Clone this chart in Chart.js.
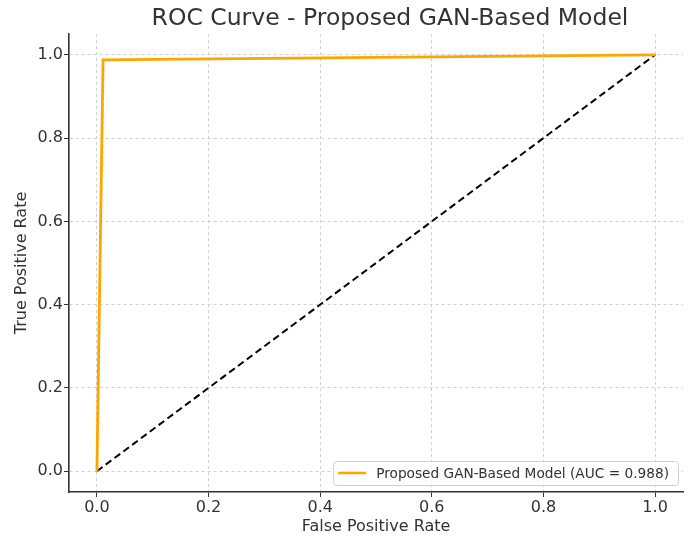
<!DOCTYPE html>
<html>
<head>
<meta charset="utf-8">
<script src="https://cdn.jsdelivr.net/npm/chart.js@4.4.1/dist/chart.umd.min.js"></script>
<style>
  html, body { margin: 0; padding: 0; background: #fff; }
  #wrap { width: 690px; height: 538px; }
</style>
</head>
<body>
<div id="wrap"><canvas id="roc"></canvas></div>
<script>
// ROC data
const modelFpr = [0, 0.011, 1];
const modelTpr = [0, 0.988, 1];
const chanceFpr = [0, 1];
const chanceTpr = [0, 1];
const tickValues = [0, 0.2, 0.4, 0.6, 0.8, 1.0];
const modelLabel = 'Proposed GAN-Based Model (AUC = 0.988)';
const chartTitle = 'ROC Curve - Proposed GAN-Based Model';

const FONT = "'DejaVu Sans', sans-serif";
const TEXT = '#333333';

const toPoints = (xs, ys) => xs.map((x, i) => ({ x: x, y: ys[i] }));

// title above the plot area
const titlePlugin = {
    id: 'axTitle',
    afterDraw(chart) {
        const { ctx, chartArea } = chart;
        ctx.save();
        ctx.font = '23.5px ' + FONT;
        ctx.fillStyle = TEXT;
        ctx.textAlign = 'center';
        ctx.textBaseline = 'middle';
        ctx.fillText(chartTitle, (chartArea.left + chartArea.right) / 2 + 14, 19);
        ctx.restore();
    }
};

// legend box in the lower right corner of the plot
const cornerLegend = {
    id: 'cornerLegend',
    afterDraw(chart) {
        const { ctx, chartArea } = chart;
        const ds = chart.data.datasets[0];
        ctx.save();
        ctx.font = '13.7px ' + FONT;
        const textW = ctx.measureText(ds.label).width;
        const boxW = textW + 52;
        const boxH = 24;
        const x = chartArea.right - boxW - 5;
        const y = chartArea.bottom - boxH - 7;
        ctx.fillStyle = 'rgba(255,255,255,0.8)';
        ctx.strokeStyle = '#d0d0d0';
        ctx.lineWidth = 1;
        ctx.beginPath();
        ctx.roundRect(x + 0.5, y + 0.5, boxW, boxH, 3);
        ctx.fill();
        ctx.stroke();
        ctx.strokeStyle = ds.borderColor;
        ctx.lineWidth = 2.5;
        ctx.beginPath();
        ctx.moveTo(x + 5, y + boxH / 2);
        ctx.lineTo(x + 33, y + boxH / 2);
        ctx.stroke();
        ctx.fillStyle = TEXT;
        ctx.textBaseline = 'middle';
        ctx.fillText(ds.label, x + 43, y + boxH / 2 + 1);
        ctx.restore();
    }
};

const setTicks = (scale) => {
    scale.ticks = tickValues.map(v => ({ value: v }));
};

const gridOpts = {
    color: '#d0d0d0',
    lineWidth: 1,
    tickColor: '#333333',
    tickBorderDash: [],
    tickLength: 5,
    drawTicks: true
};

const borderOpts = { display: true, color: '#333333', width: 1.6, dash: [3, 3] };

new Chart(document.getElementById('roc'), {
    type: 'scatter',
    data: {
        datasets: [{
            label: modelLabel,
            data: toPoints(modelFpr, modelTpr),
            showLine: true,
            borderColor: '#FFA500',
            backgroundColor: '#FFA500',
            borderWidth: 2.8,
            pointRadius: 0,
            tension: 0
        }, {
            label: 'chance',
            data: toPoints(chanceFpr, chanceTpr),
            showLine: true,
            borderColor: '#000000',
            borderWidth: 2,
            borderDash: [7, 4],
            pointRadius: 0
        }]
    },
    options: {
        responsive: true,
        maintainAspectRatio: false,
        animation: false,
        layout: { padding: { top: 34, right: 7, left: 0, bottom: 0 } },
        plugins: {
            legend: { display: false },
            title: { display: false },
            tooltip: { enabled: false }
        },
        scales: {
            x: {
                type: 'linear',
                min: -0.05,
                max: 1.05,
                afterBuildTicks: setTicks,
                afterFit: (s) => { s.height = 46; },
                grid: gridOpts,
                border: borderOpts,
                ticks: {
                    color: TEXT,
                    padding: 1,
                    font: { family: FONT, size: 16 },
                    callback: (v) => v.toFixed(1)
                },
                title: {
                    display: true,
                    text: 'False Positive Rate',
                    color: TEXT,
                    font: { family: FONT, size: 16 },
                    padding: { top: 0, bottom: 1.5 }
                }
            },
            y: {
                type: 'linear',
                min: -0.05,
                max: 1.05,
                afterBuildTicks: setTicks,
                afterFit: (s) => { s.width = 69; },
                grid: gridOpts,
                border: borderOpts,
                ticks: {
                    color: TEXT,
                    padding: 1,
                    font: { family: FONT, size: 16 },
                    callback: (v) => v.toFixed(1)
                },
                title: {
                    display: true,
                    text: 'True Positive Rate',
                    color: TEXT,
                    font: { family: FONT, size: 16 },
                    padding: { top: 12.5, bottom: 0 }
                }
            }
        }
    },
    plugins: [titlePlugin, cornerLegend]
});
</script>
</body>
</html>
